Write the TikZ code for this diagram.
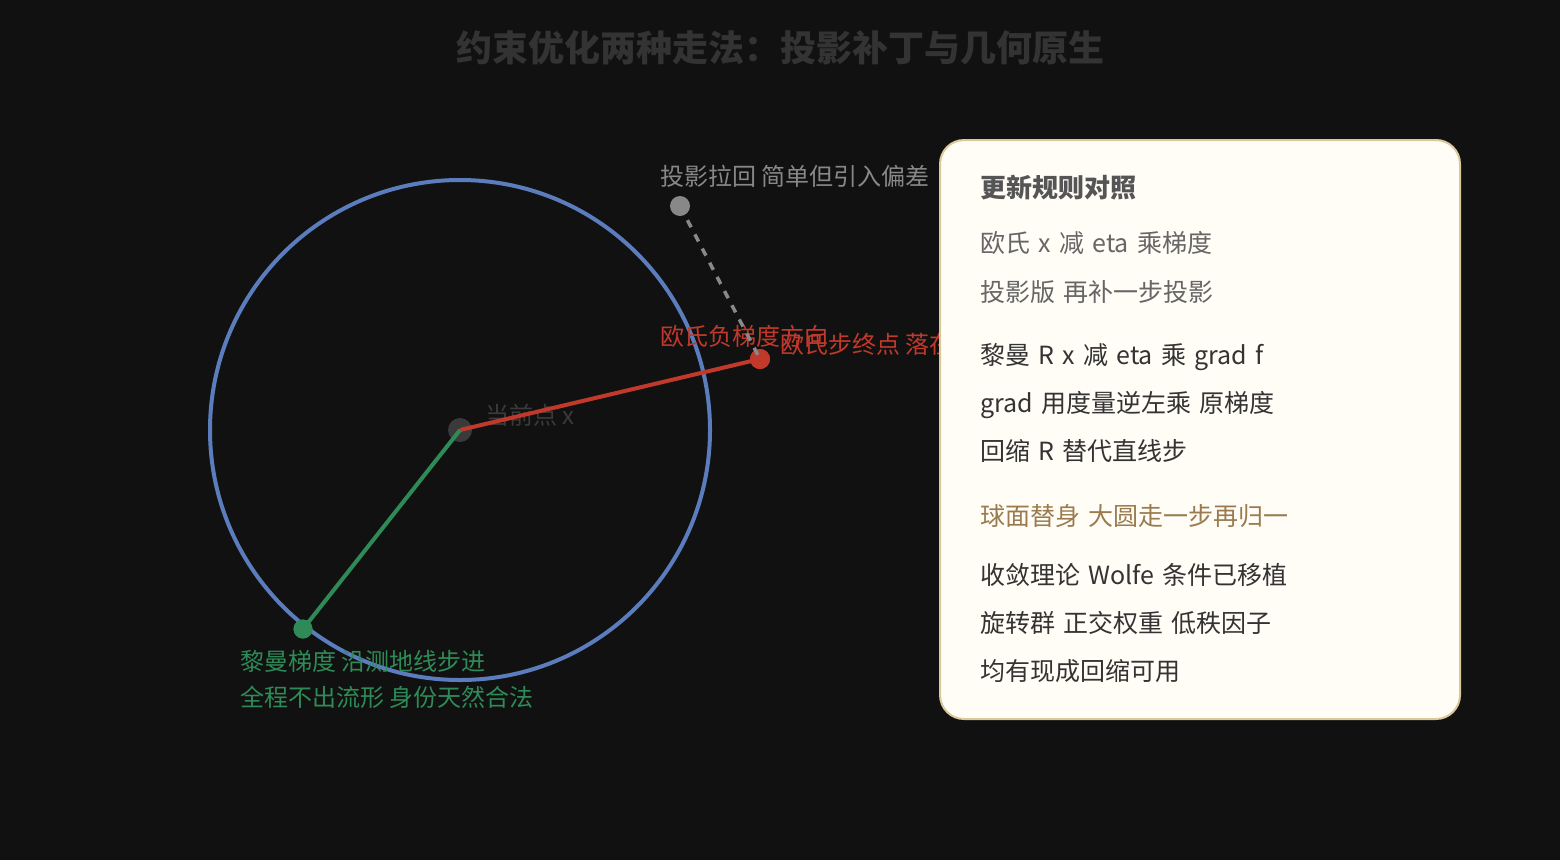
\documentclass[tikz,border=0pt]{standalone}
\usepackage{fontspec}
\setmainfont{Noto Sans CJK SC}
\definecolor{bgc}{HTML}{111111}
\definecolor{titlec}{HTML}{333333}
\definecolor{circc}{HTML}{5B7DBE}
\definecolor{redc}{HTML}{C0392B}
\definecolor{greenc}{HTML}{2E8B57}
\definecolor{greyc}{HTML}{888888}
\definecolor{centc}{HTML}{3A3A3A}
\definecolor{panelfill}{HTML}{FFFDF5}
\definecolor{panelline}{HTML}{D8C89A}
\definecolor{headc}{HTML}{555555}
\definecolor{softc}{HTML}{666666}
\definecolor{darkc}{HTML}{333333}
\definecolor{brownc}{HTML}{9A7B4F}
\newcommand\panelfont{\fontsize{25}{25}\selectfont\spaceskip=0.33em plus 0.1em\relax}
\tikzset{
  lbl/.style={anchor=base west, inner sep=0pt, font=\fontsize{24}{24}\selectfont},
  ptxt/.style={anchor=base west, inner sep=0pt, font=\panelfont},
  dot/.style={circle, inner sep=0pt, draw=none},
}
\begin{document}
\begin{tikzpicture}[x=1pt,y=-1pt]
\fill[bgc] (0,0) rectangle (1560,860);
\useasboundingbox (0,0) rectangle (1560,860);
% title
\node[anchor=base, inner sep=0pt, text=titlec, font=\fontsize{36}{36}\selectfont\bfseries] (title) at (780,61) {约束优化两种走法：投影补丁与几何原生};
% circle
\draw[circc, line width=4pt] (460,430) circle[radius=250];
% labels
\node[lbl, text=greyc] (lproj) at (660,185) {投影拉回 简单但引入偏差};
\node[lbl, text=redc] (ldir) at (660,345) {欧氏负梯度方向};
\node[lbl, text=redc] (lend) at (780,353) {欧氏步终点 落在流形外};
\node[lbl, text=centc] (lcur) at (485,424) {当前点 x};
\node[lbl, text=greenc] (lg1) at (240,670) {黎曼梯度 沿测地线步进};
\node[lbl, text=greenc] (lg2) at (240,706) {全程不出流形 身份天然合法};
% points
\node[dot, fill=centc, minimum size=24pt] (x) at (460,430) {};
\node[dot, fill=redc, minimum size=20pt] (e) at (760,359) {};
\node[dot, fill=greenc, minimum size=19pt] (g) at (303,629) {};
\node[dot, fill=greyc, minimum size=20pt] (p) at (680,206) {};
% lines
\draw[redc, line width=4pt] (x.center) -- (e.center);
\draw[greenc, line width=4pt] (x.center) -- (g.center);
\node[dot, fill=redc, minimum size=20pt] at (e) {};
\node[dot, fill=greenc, minimum size=19pt] at (g) {};
\draw[greyc, line width=3.5pt, dash pattern=on 8pt off 8pt] (p.center) -- (e.center);
% panel
\draw[fill=panelfill, draw=panelline, line width=2pt, rounded corners=24pt] (940,140) rectangle (1460,719);
\node[anchor=base west, inner sep=0pt, text=headc, font=\fontsize{26}{26}\selectfont\bfseries] (ph) at (980,197) {更新规则对照};
\node[ptxt, text=softc] (p1) at (980,252) {欧氏 x 减 eta 乘梯度};
\node[ptxt, text=softc] (p2) at (980,301) {投影版 再补一步投影};
\node[ptxt, text=darkc] (p3) at (980,364) {黎曼 R x 减 eta 乘 grad f};
\node[ptxt, text=darkc] (p4) at (980,412) {grad 用度量逆左乘 原梯度};
\node[ptxt, text=darkc] (p5) at (980,460) {回缩 R 替代直线步};
\node[ptxt, text=brownc] (p6) at (980,525) {球面替身 大圆走一步再归一};
\node[ptxt, text=darkc] (p7) at (980,584) {收敛理论 Wolfe 条件已移植};
\node[ptxt, text=darkc] (p8) at (980,632) {旋转群 正交权重 低秩因子};
\node[ptxt, text=darkc] (p9) at (980,680) {均有现成回缩可用};
\end{tikzpicture}
\end{document}
